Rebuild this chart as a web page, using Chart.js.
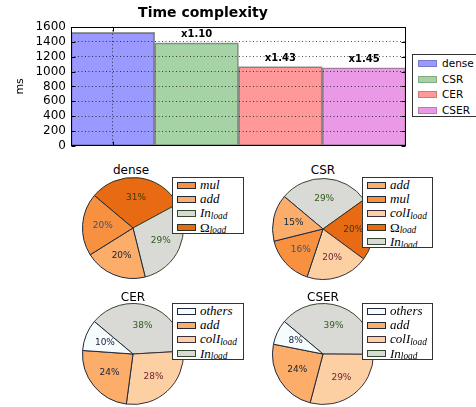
<!doctype html>
<html>
<head>
<meta charset="utf-8" />
<title>Time complexity</title>
<script src="https://cdn.jsdelivr.net/npm/chart.js@4.4.1/dist/chart.umd.min.js"></script>
<style>
  body { margin: 0; width: 476px; height: 407px; overflow: hidden; background: #fff; position: relative; font-family: 'DejaVu Sans', sans-serif; }
  canvas { position: absolute; }
  .ptitle { position: absolute; width: 100px; text-align: center; font-size: 12px; line-height: 14px; color: #000; }
  .legend { position: absolute; background: #fff; border: 1px solid #333; box-sizing: border-box; overflow: hidden; }
  .legend .row { position: absolute; left: 0; right: 0; white-space: nowrap; }
  .legend .patch { position: absolute; box-sizing: border-box; }
  .legend .txt { position: absolute; color: #000; }
  .math { font-family: 'Liberation Serif', serif; font-style: italic; font-size: 13px; }
  .math sub { font-size: 0.72em; position: relative; top: 0.2em; vertical-align: baseline; line-height: 0; }
</style>
</head>
<body>
<canvas id="bars" width="476" height="160" style="left:0;top:0"></canvas>
<div id="barLegend" class="legend" style="left:412px;top:54px;width:72px;height:63px"></div>

<canvas id="pieDense" width="102" height="102" style="left:82px;top:177px"></canvas>
<canvas id="pieCSR" width="102" height="102" style="left:272px;top:178px"></canvas>
<canvas id="pieCER" width="102" height="102" style="left:82px;top:303px"></canvas>
<canvas id="pieCSER" width="102" height="102" style="left:272px;top:303px"></canvas>

<div class="ptitle" style="left:81px;top:163px">dense</div>
<div class="ptitle" style="left:273px;top:163px">CSR</div>
<div class="ptitle" style="left:83px;top:290px">CER</div>
<div class="ptitle" style="left:273px;top:290px">CSER</div>

<div id="legDense" class="legend" style="left:172px;top:177px;width:72px;height:57px"></div>
<div id="legCSR" class="legend" style="left:362px;top:177px;width:71px;height:71px"></div>
<div id="legCER" class="legend" style="left:172px;top:303px;width:72px;height:57px"></div>
<div id="legCSER" class="legend" style="left:362px;top:303px;width:71px;height:57px"></div>

<script>
// bar chart data
var formats = ['dense', 'CSR', 'CER', 'CSER'];
var timesMs = [1525, 1385, 1065, 1050];
var barColors = ['rgba(0,0,255,0.4)', 'rgba(0,128,0,0.35)', 'rgba(255,0,0,0.4)', 'rgba(200,0,190,0.4)'];

// pie data (matplotlib order, counter-clockwise from 140 deg)
var denseParts = ['mul', 'add', 'In_load', 'Omega_load'];
var denseShares = [20, 20, 29, 31];
var csrParts = ['add', 'mul', 'colI_load', 'Omega_load', 'In_load'];
var csrShares = [15, 16, 20, 20, 29];
var cerParts = ['others', 'add', 'colI_load', 'In_load'];
var cerShares = [10, 24, 28, 38];
var cserParts = ['others', 'add', 'colI_load', 'In_load'];
var cserShares = [8, 24, 29, 39];

var sliceColors = {
  mul: '#f7913f', add: '#fbad69', In_load: '#d9d9d6', Omega_load: '#e86a12',
  colI_load: '#fcd0a3', others: '#f6fbfb'
};
var edgeColors = {
  mul: '#1d2a3e', add: '#1d2a3e', In_load: '#34482a', Omega_load: '#2a3320',
  colI_load: '#3a2e3e', others: '#1d2a3e'
};
var textColors = {
  mul: '#42536c', add: '#15213a', In_load: '#2e5a1c', Omega_load: '#3b3a12',
  colI_load: '#6a1f30', others: '#15213a'
};

function mathLabel(name) {
  var parts = name.split('_');
  var base = parts[0] === 'Omega' ? '<span style="font-style:normal">\u03A9</span>' : parts[0];
  var html = '<span class="math">' + base;
  if (parts[1]) html += '<sub>' + parts[1] + '</sub>';
  return html + '</span>';
}

function buildPieLegend(id, parts) {
  var box = document.getElementById(id);
  parts.forEach(function (p, i) {
    var row = document.createElement('div');
    row.className = 'row';
    row.style.top = (i * 14.2) + 'px';
    row.style.height = '14px';
    row.innerHTML =
      '<div class="patch" style="left:4px;top:3.5px;width:19px;height:7px;background:' + sliceColors[p] +
      ';border:1px solid ' + edgeColors[p] + '"></div>' +
      '<div class="txt" style="left:27px;top:-1px;line-height:14px">' + mathLabel(p) + '</div>';
    box.appendChild(row);
  });
}

function buildBarLegend() {
  var box = document.getElementById('barLegend');
  formats.forEach(function (f, i) {
    var row = document.createElement('div');
    row.className = 'row';
    row.style.top = (1 + i * 15.5) + 'px';
    row.style.height = '15px';
    row.innerHTML =
      '<div class="patch" style="left:5px;top:4px;width:19px;height:7px;background:' + barColors[i] +
      ';border:1px solid rgba(0,0,0,0.2)"></div>' +
      '<div class="txt" style="left:29px;top:0;line-height:15px;font-size:10.5px">' + f + '</div>';
    box.appendChild(row);
  });
}

// frame around the axes and inward tick marks (matplotlib classic look)
var frameTicks = {
  id: 'frameTicks',
  afterDraw: function (chart) {
    var ctx = chart.ctx, a = chart.chartArea, x = chart.scales.x, y = chart.scales.y;
    var l = Math.round(a.left) + 0.5, r = Math.round(a.right) - 0.5;
    var t = Math.round(a.top) + 0.5, b = Math.round(a.bottom) - 0.5;
    ctx.save();
    ctx.strokeStyle = '#000';
    ctx.lineWidth = 1;
    ctx.strokeRect(l, t, r - l, b - t);
    ctx.beginPath();
    y.ticks.forEach(function (tk) {
      var py = Math.round(y.getPixelForValue(tk.value)) + 0.5;
      ctx.moveTo(l, py); ctx.lineTo(l + 4, py);
      ctx.moveTo(r, py); ctx.lineTo(r - 4, py);
    });
    var px = Math.round(x.getPixelForValue(0)) + 0.5;
    ctx.moveTo(px, t); ctx.lineTo(px, t + 4);
    ctx.moveTo(px, b); ctx.lineTo(px, b - 4);
    ctx.stroke();
    ctx.restore();
  }
};

// "x1.10" style speedup labels above the bars
var speedupLabels = {
  id: 'speedupLabels',
  afterDraw: function (chart) {
    var ctx = chart.ctx;
    var vals = chart.data.datasets[0].data;
    var meta = chart.getDatasetMeta(0);
    ctx.save();
    ctx.font = 'bold 10px "DejaVu Sans"';
    ctx.fillStyle = '#000';
    ctx.textAlign = 'center';
    ctx.textBaseline = 'middle';
    meta.data.forEach(function (bar, i) {
      if (i === 0) return;
      ctx.fillText('x' + (vals[0] / vals[i]).toFixed(2), bar.x, bar.y - 8);
    });
    ctx.restore();
  }
};

new Chart(document.getElementById('bars'), {
  type: 'bar',
  data: {
    labels: formats,
    datasets: [{
      data: timesMs,
      backgroundColor: barColors,
      borderColor: 'rgba(0,0,0,0.4)',
      borderWidth: 1,
      borderSkipped: false,
      barPercentage: 1,
      categoryPercentage: 1
    }]
  },
  options: {
    responsive: false,
    animation: false,
    layout: { padding: { left: 0, right: 70, top: 0, bottom: 14 } },
    plugins: {
      legend: { display: false },
      tooltip: { enabled: false },
      title: {
        display: true, text: 'Time complexity', color: '#000',
        font: { family: 'DejaVu Sans', size: 14, weight: 'bold' },
        padding: { top: 5, bottom: 5 }
      }
    },
    scales: {
      x: {
        ticks: { display: false },
        grid: {
          offset: false, z: 1, drawTicks: false,
          color: function (c) { return c.index === 0 ? 'rgba(0,0,0,0.7)' : 'rgba(0,0,0,0)'; }
        },
        border: { display: false, dash: [1, 2.5] },
        afterFit: function (s) { s.height = 0; }
      },
      y: {
        min: 0, max: 1600,
        ticks: {
          stepSize: 200, autoSkip: false, color: '#000', padding: 5,
          font: { family: 'DejaVu Sans', size: 12, lineHeight: 1 },
          callback: function (v) { return String(v); }
        },
        grid: {
          z: 1, drawTicks: false,
          color: function (c) {
            return (c.tick.value === 0 || c.tick.value === 1600) ? 'rgba(0,0,0,0)' : 'rgba(0,0,0,0.7)';
          }
        },
        border: { display: false, dash: [1, 2.5] },
        title: {
          display: true, text: 'ms', color: '#000',
          font: { family: 'DejaVu Sans', size: 11 }, padding: { top: 14, bottom: 0 }
        },
        afterFit: function (s) { s.width = 71; }
      }
    }
  },
  plugins: [frameTicks, speedupLabels]
});

// percentage text inside each wedge, at 0.6 of the radius like matplotlib
var pctLabels = {
  id: 'pctLabels',
  afterDatasetsDraw: function (chart) {
    var ctx = chart.ctx;
    var ds = chart.data.datasets[0];
    chart.getDatasetMeta(0).data.forEach(function (arc, i) {
      var p = arc.getProps(['x', 'y', 'startAngle', 'endAngle', 'outerRadius'], true);
      var mid = (p.startAngle + p.endAngle) / 2;
      var r = p.outerRadius * 0.6;
      ctx.save();
      ctx.font = '9px "DejaVu Sans"';
      ctx.fillStyle = textColors[chart.data.labels[i]];
      ctx.textAlign = 'center';
      ctx.textBaseline = 'middle';
      ctx.fillText(ds.data[i] + '%', p.x + Math.cos(mid) * r, p.y + Math.sin(mid) * r);
      ctx.restore();
    });
  }
};

function makePie(id, parts, shares) {
  // chart.js draws clockwise, matplotlib counter-clockwise: reverse the order
  var order = parts.map(function (_, i) { return i; }).reverse();
  new Chart(document.getElementById(id), {
    type: 'pie',
    data: {
      labels: order.map(function (i) { return parts[i]; }),
      datasets: [{
        data: order.map(function (i) { return shares[i]; }),
        backgroundColor: order.map(function (i) { return sliceColors[parts[i]]; }),
        borderColor: order.map(function (i) { return edgeColors[parts[i]]; }),
        borderWidth: 1
      }]
    },
    options: {
      responsive: false,
      animation: false,
      rotation: -50,
      plugins: { legend: { display: false }, tooltip: { enabled: false } }
    },
    plugins: [pctLabels]
  });
}

makePie('pieDense', denseParts, denseShares);
makePie('pieCSR', csrParts, csrShares);
makePie('pieCER', cerParts, cerShares);
makePie('pieCSER', cserParts, cserShares);

buildBarLegend();
buildPieLegend('legDense', denseParts);
buildPieLegend('legCSR', csrParts);
buildPieLegend('legCER', cerParts);
buildPieLegend('legCSER', cserParts);
</script>
</body>
</html>
